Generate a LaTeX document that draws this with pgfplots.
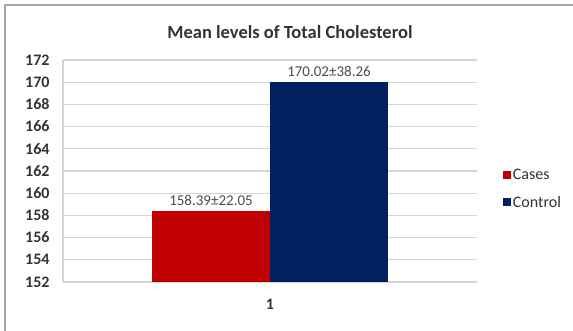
\documentclass[border=0pt]{standalone}
\usepackage{pgfplots}
\pgfplotsset{compat=1.18}
\usepackage{fontspec}
\setmainfont{Carlito}
\definecolor{casered}{HTML}{C00000}
\definecolor{ctrlblue}{HTML}{002060}
\definecolor{gridgray}{HTML}{D4D4D4}
\begin{document}
\begin{tikzpicture}[x=1pt,y=1pt]
\useasboundingbox (0,0) rectangle (573,331);
\draw[color=gray!70, line width=1.5pt] (5,0) -- (5,326) -- (573,326);
\node[font=\bfseries\fontsize{18.5}{20}\selectfont, text=black!80] at (290,299) {Mean levels of Total Cholesterol};
\begin{axis}[
  at={(63pt,49pt)}, anchor=south west,
  scale only axis, width=414pt, height=222pt,
  ybar=0pt, bar width=118pt,
  xmin=0, xmax=2, ymin=152, ymax=172,
  xtick={1}, xticklabels={1},
  ytick={152,154,...,172},
  major tick length=0pt,
  axis x line*=bottom, axis y line*=left,
  axis line style={gridgray, line width=1.2pt},
  ymajorgrids, grid style={gridgray, line width=1.2pt},
  every axis plot/.append style={draw=none},
  /pgf/number format/assume math mode=true,
  /pgf/number format/fixed,
  yticklabel style={font=\bfseries\fontsize{16}{18}\selectfont, text=black!80, xshift=-10pt},
  xticklabel style={font=\bfseries\fontsize{16}{18}\selectfont, text=black!80, yshift=-14pt},
  nodes near coords style={font=\fontsize{15}{17}\selectfont, text=black!70, yshift=2pt},
  legend style={at={(1.055,0.42)}, anchor=west, draw=none, fill=none,
    font=\fontsize{16}{18}\selectfont, text=black!80, row sep=11pt,
    legend cell align=left, /tikz/every even column/.append style={column sep=2pt}},
  legend image code/.code={\fill[#1] (0pt,-4pt) rectangle (8pt,4pt);},
  clip=false,
]
\addplot[fill=casered, nodes near coords={158.39±22.05}] coordinates {(1,158.39)};
\addplot[fill=ctrlblue, nodes near coords={170.02±38.26}] coordinates {(1,170.02)};
\legend{Cases,Control}
\end{axis}
\end{tikzpicture}
\end{document}
